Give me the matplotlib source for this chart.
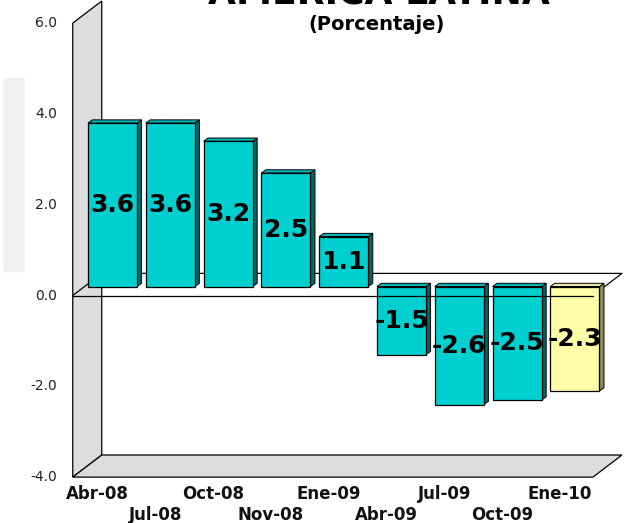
import matplotlib
matplotlib.use("Agg")
import matplotlib.pyplot as plt
from matplotlib.patches import Polygon, FancyBboxPatch

# ---- data ----
categories = ["Abr-08", "Jul-08", "Oct-08", "Nov-08", "Ene-09",
              "Abr-09", "Jul-09", "Oct-09", "Ene-10"]
values = [3.6, 3.6, 3.2, 2.5, 1.1, -1.5, -2.6, -2.5, -2.3]
is_projection = [False, False, False, False, False, False, False, False, True]
y_ticks = [6.0, 4.0, 2.0, 0.0, -2.0, -4.0]
title = "AMERICA LATINA"
subtitle = "(Porcentaje)"

# ---- geometry (pseudo 3D) ----
PXX, PXY = 57.8, 45.4          # pixels per category / per unit
FRONT = (-12 / PXX, -9 / PXY)   # offset of front plane from bar plane
BACK = (17 / PXX, 13.1 / PXY)   # offset of back plane from bar plane
BD = (4.5 / PXX, 3.2 / PXY)     # bar depth
W = 0.85
XL, XR = -0.48, 8.52
YMIN, YMAX = -4.0, 6.0

fig = plt.figure(figsize=(6.31, 5.23), dpi=100)
ax = fig.add_axes([0, 0, 1, 1])
ax.set_xlim(-112.5 / PXX, (631 - 112.5) / PXX)
ax.set_ylim((286.5 - 523) / PXY, 286.5 / PXY)
ax.axis("off")

def P(x, y, off):
    return (x + off[0], y + off[1])

# faint background watermark at left
ax.add_patch(FancyBboxPatch(((6 - 112.5) / PXX, (286.5 - 270) / PXY),
                            16 / PXX, 190 / PXY,
                            boxstyle="round,pad=0.05", facecolor="#F1F1F1",
                            edgecolor="none", zorder=0))

edge = dict(edgecolor="black", linewidth=0.9)
wall_col = "#DDDDDD"

# left wall
ax.add_patch(Polygon([P(XL, YMIN, FRONT), P(XL, YMAX, FRONT),
                      P(XL, YMAX, BACK), P(XL, YMIN, BACK)],
                     closed=True, facecolor=wall_col, zorder=1, **edge))
# floor
ax.add_patch(Polygon([P(XL, YMIN, FRONT), P(XR, YMIN, FRONT),
                      P(XR, YMIN, BACK), P(XL, YMIN, BACK)],
                     closed=True, facecolor=wall_col, zorder=1, **edge))
# zero plane outline (back part)
zb = [P(XL, 0, FRONT), P(XL, 0, BACK), P(XR, 0, BACK), P(XR, 0, FRONT)]
ax.plot([p[0] for p in zb], [p[1] for p in zb], color="black", lw=0.9, zorder=2)

# bars
for i, (v, proj) in enumerate(zip(values, is_projection)):
    if proj:
        fc, sc, tc = "#FFFFAA", "#8E8E5C", "#E6E6A0"
    else:
        fc, sc, tc = "#00CFCF", "#006666", "#00B5B5"
    x0, x1 = i - W / 2, i + W / 2
    lo, hi = min(0, v), max(0, v)
    # side
    ax.add_patch(Polygon([(x1, lo), (x1, hi), (x1 + BD[0], hi + BD[1]),
                          (x1 + BD[0], lo + BD[1])], closed=True,
                         facecolor=sc, zorder=3, edgecolor="black", linewidth=0.7))
    # top
    ax.add_patch(Polygon([(x0, hi), (x1, hi), (x1 + BD[0], hi + BD[1]),
                          (x0 + BD[0], hi + BD[1])], closed=True,
                         facecolor=tc, zorder=3, edgecolor="black", linewidth=0.7))
    # front
    ax.bar(i, v, width=W, color=fc, edgecolor="black", linewidth=0.9, zorder=4)
    ax.text(i, v / 2, f"{v:.1f}", ha="center", va="center",
            fontsize=18, fontweight="bold", family="DejaVu Sans",
            color="black", zorder=6)

# zero plane front line (in front of bars)
ax.plot([XL + FRONT[0], XR + FRONT[0]], [FRONT[1], FRONT[1]],
        color="black", lw=0.9, zorder=5)

# y tick labels
for t in y_ticks:
    ax.text((57 - 112.5) / PXX, t + FRONT[1], f"{t:.1f}", ha="right", va="center",
            fontsize=10, family="DejaVu Sans", color="#222222")

# x labels (staggered)
for i, c in enumerate(categories):
    yy = YMIN + FRONT[1] - (17 / PXY if i % 2 == 0 else 38 / PXY)
    ax.text(i + FRONT[0] - 3 / PXX, yy, c, ha="center", va="center",
            fontsize=12, fontweight="bold", family="DejaVu Sans", color="#111111")

# titles (main title is cropped at the top edge, as in the source)
ax.text((379 - 112.5) / PXX, (286.5 - 4) / PXY, title, ha="center", va="baseline",
        fontsize=26, fontweight="bold", family="DejaVu Sans", color="black")
ax.text((377 - 112.5) / PXX, (286.5 - 30) / PXY, subtitle, ha="center", va="baseline",
        fontsize=14, fontweight="bold", family="DejaVu Sans", color="black")

fig.savefig("out.png", dpi=100)
